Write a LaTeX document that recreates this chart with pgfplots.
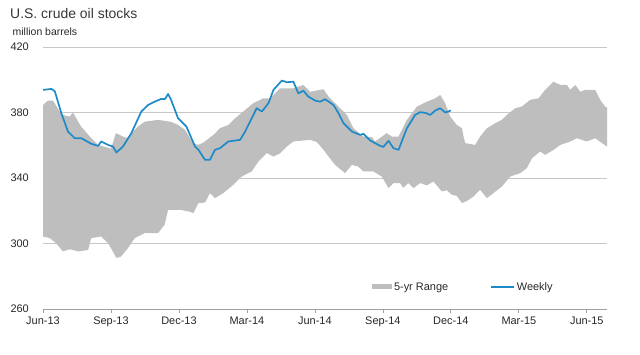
\documentclass[border=0pt]{standalone}
\usepackage{pgfplots}
\pgfplotsset{compat=1.18}
\usepgfplotslibrary{fillbetween}
\usepackage{fontspec}
\setmainfont{Liberation Sans}
\definecolor{bandgray}{RGB}{190,190,190}
\definecolor{weekblue}{RGB}{30,138,200}
\definecolor{gridgray}{RGB}{200,200,200}
\definecolor{txtgray}{RGB}{40,40,40}
\begin{document}
\begin{tikzpicture}
\begin{axis}[
  at={(0,0)}, anchor=south west,
  scale only axis, width=564bp, height=262bp,
  xmin=0, xmax=24.89, ymin=260, ymax=420,
  axis lines*=left,
  y axis line style={draw=none},
  x axis line style={draw={rgb,255:red,160;green,160;blue,160}, line width=0.8pt},
  ytick={260,300,340,380,420},
  ymajorgrids, grid style={gridgray, line width=0.8pt},
  xtick={0,3,6,9,12,15,18,21,24},
  xticklabels={Jun-13,Sep-13,Dec-13,Mar-14,Jun-14,Sep-14,Dec-14,Mar-15,Jun-15},
  tick align=outside,
  major x tick style={draw={rgb,255:red,160;green,160;blue,160}, line width=0.8pt},
  major y tick style={draw=none},
  major tick length=4bp,
  /pgf/number format/assume math mode=true,
  tick label style={font=\fontsize{11}{13}\selectfont, text=txtgray},
  yticklabel style={anchor=east, inner sep=0pt, xshift=-10bp},
  xticklabel style={inner sep=0pt, yshift=-3.5bp},
  legend style={at={(rel axis cs:0.583,0.084)}, anchor=west, draw=none, fill=none,
    inner xsep=0pt, inner ysep=0pt, legend columns=2,
    font=\fontsize{11}{13}\selectfont, text=txtgray,
    nodes={inner xsep=2bp, inner ysep=1bp},
    /tikz/every even column/.append style={column sep=40bp}},
]
\addplot[name path=top, draw=none, forget plot] coordinates {
(0.00,384.6)(0.22,387.3)(0.44,387.3)(0.74,380.5)(0.88,378.5)(1.18,377.5)(1.32,380)
(1.68,371.4)(2.13,364.3)(2.43,360.2)(3.00,358)(3.22,367.4)(3.53,365.3)(3.71,364.5)
(4.19,371.4)(4.49,374.4)(5.08,375.5)(5.65,374.3)(5.96,372.4)(6.26,369.5)(6.62,361.5)
(6.84,360.2)(7.06,361.5)(7.52,366.3)(7.81,370.4)(8.18,372.4)(8.48,376.5)(8.84,380.6)
(9.28,385.7)(9.73,388.7)(10.02,388.7)(10.46,394.8)(11.05,394.8)(11.49,396.8)(11.79,392.7)
(12.38,394.2)(12.60,389.7)(13.11,382.6)(13.41,378.5)(13.70,370.4)(14.14,365.3)(14.51,365)
(14.66,362.3)(15.17,367.4)(15.40,365.3)(15.69,365.3)(16.06,375.5)(16.50,383.6)(16.94,386.6)
(17.31,388.7)(17.53,390.7)(17.75,385.7)(17.97,377.5)(18.26,372.4)(18.49,370.4)(18.56,365.3)
(18.63,361.3)(19.07,360.2)(19.29,365.3)(19.59,370.4)(19.96,373.5)(20.25,375.5)(20.47,378.5)
(20.84,382.6)(21.13,383.6)(21.50,387.7)(21.87,388.7)(22.16,393.8)(22.53,398.8)(22.83,396.8)
(23.12,396.8)(23.27,393.8)(23.49,396.8)(23.71,392.7)(23.93,393.8)(24.37,393.8)(24.59,387.7)
(24.81,383.6)(24.89,383)
};
\addplot[name path=bot, draw=none, forget plot] coordinates {
(0.00,304.3)(0.30,303.3)(0.57,300.3)(0.88,295.2)(1.19,296.5)(1.55,295.2)(1.99,296)
(2.13,303.3)(2.56,304.3)(2.87,300.3)(3.24,291.2)(3.44,292)(3.75,297.2)(4.05,303.3)
(4.49,306.4)(5.08,306.4)(5.37,311.5)(5.52,320.6)(6.05,320.6)(6.42,319.6)(6.64,318.6)
(6.86,324.7)(7.15,325)(7.37,330.8)(7.59,327.7)(7.96,330.8)(8.40,335.9)(8.77,340.9)
(9.21,344)(9.51,350.1)(9.88,355.2)(10.17,353.1)(10.46,355)(10.76,359.2)(11.05,362.3)
(11.79,363.3)(12.08,362)(12.38,357.2)(12.58,353.5)(12.89,348)(13.33,343)(13.63,348)
(13.91,347)(14.14,344)(14.58,344)(14.95,340.9)(15.25,333.8)(15.47,336.9)(15.76,336.9)
(15.89,334)(16.13,336.9)(16.35,333.8)(16.64,336.9)(16.94,335.5)(17.23,337.9)(17.60,331.8)
(17.82,332.5)(18.04,329.8)(18.26,329)(18.49,324.7)(18.71,326)(19.00,328.7)(19.29,332.8)
(19.59,327.7)(19.88,330.8)(20.25,334.8)(20.62,340.9)(21.06,343)(21.35,346)(21.58,352.1)
(21.94,356.2)(22.16,354.1)(22.53,357.2)(22.83,360.2)(23.27,362.3)(23.56,364.3)(24.00,362.3)
(24.37,364.3)(24.67,361.3)(24.89,359.2)
};
\addplot[fill=bandgray, draw=none,
  legend image code/.code={\fill[bandgray] (0bp,-2.5bp) rectangle (20bp,2.5bp);}]
  fill between[of=top and bot];
\addlegendentry{5-yr Range}
\addplot[weekblue, line width=1.7pt, line join=round,
  legend image code/.code={\draw[weekblue, line width=1.7pt] (0bp,0bp) -- (23bp,0bp);}]
  coordinates {
(0.00,393.8)(0.37,394.4)(0.52,393)(0.81,379.6)(1.10,368.4)(1.40,364.3)(1.69,364.3)
(2.13,360.9)(2.43,359.6)(2.57,362.3)(2.87,360.2)(3.09,359.2)(3.24,355.6)(3.53,359.2)
(3.90,367.4)(4.34,380.6)(4.64,384.6)(4.93,386.6)(5.22,388.3)(5.39,388.3)(5.52,391.3)
(5.66,387.5)(5.96,376.5)(6.33,371.4)(6.71,359.2)(6.86,357.2)(7.15,351.1)(7.37,351.1)
(7.59,357.2)(7.81,358.2)(8.18,362.3)(8.70,363.3)(8.92,368.4)(9.43,382.6)(9.66,380.6)
(9.95,385.7)(10.17,393.8)(10.54,399.5)(10.76,398.5)(11.05,398.8)(11.27,391.7)(11.49,393.3)
(11.71,389.7)(12.01,387.3)(12.23,386.6)(12.45,388.1)(12.82,384.6)(13.04,379.6)(13.26,373.5)
(13.63,368.4)(14.00,366.3)(14.14,367)(14.44,362.9)(14.88,359.6)(15.02,359)(15.25,362.7)
(15.47,358.2)(15.69,357.2)(16.06,370.4)(16.42,378.5)(16.64,380.2)(16.87,379.8)(17.09,378.5)
(17.31,381.2)(17.53,382.6)(17.75,380)(18.00,381.2)
};
\addlegendentry{Weekly}
\end{axis}
\node[anchor=base west, inner sep=0pt, font=\fontsize{14}{16}\selectfont, text={rgb,255:red,55;green,55;blue,55}] at (-33bp,290.7bp) {U.S. crude oil stocks};
\node[anchor=base west, inner sep=0pt, font=\fontsize{10.5}{12}\selectfont, text=txtgray] at (-30.5bp,273.3bp) {million barrels};
\path[use as bounding box] (-43bp,-46bp) rectangle (597bp,309bp);
\end{tikzpicture}
\end{document}
